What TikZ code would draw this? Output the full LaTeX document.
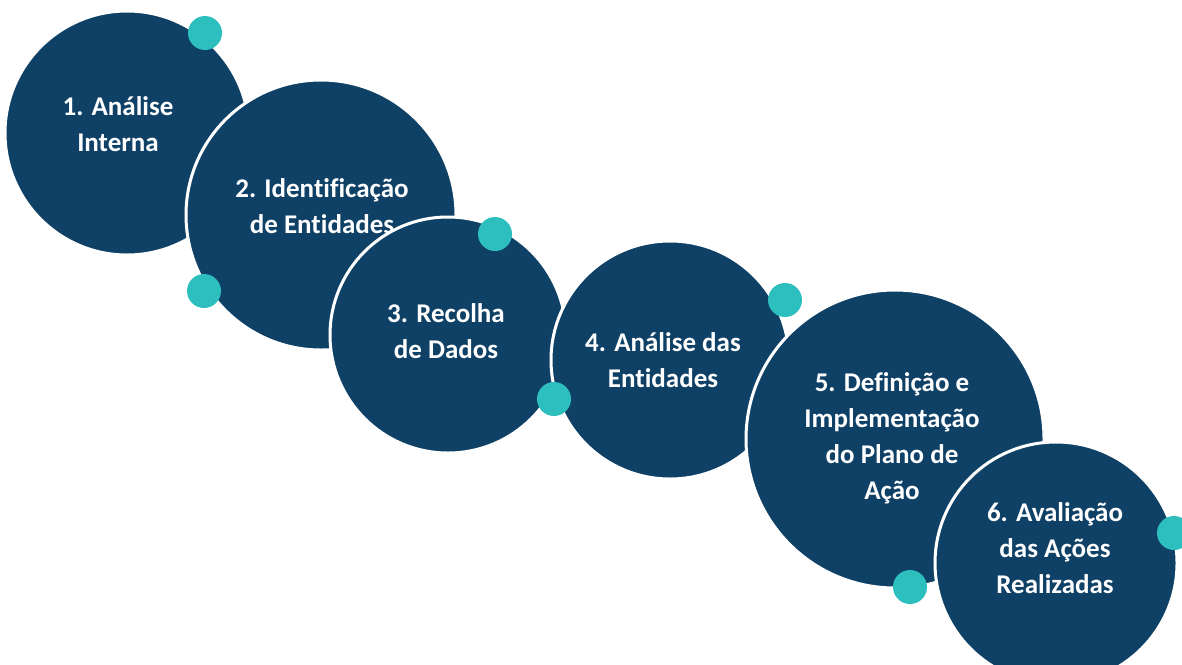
\documentclass[tikz,border=0pt]{standalone}
\usepackage{fontspec}
\setmainfont{Carlito}[Ligatures=NoCommon]
\definecolor{navy}{HTML}{0F4167}
\definecolor{aqua}{HTML}{2CBFBE}

\begin{document}
\begin{tikzpicture}[x=1pt, y=-1pt,
  phase/.style={circle, fill=navy, draw=white, line width=3pt, inner sep=0pt},
  dot/.style={circle, fill=aqua, minimum size=34pt, inner sep=0pt},
  caption/.style={text=white, align=center, inner sep=0pt,
    font=\bfseries\fontsize{27}{36}\selectfont}]
  \clip (0,0) rectangle (1182,664);

  % the six steps
  \node[phase, minimum size=244pt] (c1) at (127,133) {};
  \node[phase, minimum size=270pt] (c2) at (321,215) {};
  \node[phase, minimum size=236pt] (c3) at (448,335) {};
  \node[phase, minimum size=238pt] (c4) at (670,360) {};
  \node[phase, minimum size=298pt] (c5) at (895,439) {};
  \node[phase, minimum size=242pt] (c6) at (1056,563) {};

  \node[caption] (t1) at (118,124) {1. Análise\\Interna};
  \node[caption] (t2) at (322,206) {2. Identificação\\de Entidades};
  \node[caption] (t3) at (446,331) {3. Recolha\\de Dados};
  \node[caption] (t4) at (663,360) {4. Análise das\\Entidades};
  \node[caption] (t5) at (892,438) {5. Definição e\\Implementação\\do Plano de\\Ação};
  \node[caption] (t6) at (1055,548) {6. Avaliação\\das Ações\\Realizadas};

  % small dots on the rims
  \node[dot] (d1) at (205,33) {};
  \node[dot] (d2) at (204,291) {};
  \node[dot] (d3) at (495,234) {};
  \node[dot] (d4) at (554,399) {};
  \node[dot] (d5) at (785,300) {};
  \node[dot] (d6) at (910,587) {};
  \node[dot] (d7) at (1174,533) {};
\end{tikzpicture}
\end{document}
